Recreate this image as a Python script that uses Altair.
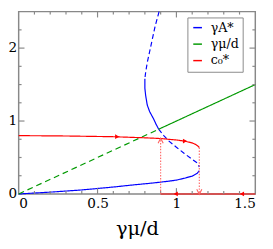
import altair as alt
import pandas as pd

# ---------------- data ----------------
blue_lower_x = [0, 0.2, 0.4, 0.6, 0.73, 0.85, 0.95, 1.0, 1.05, 1.1, 1.13, 1.145]
blue_lower_y = [0, 0.025, 0.055, 0.095, 0.125, 0.15, 0.175, 0.19, 0.215, 0.245, 0.28, 0.32]

blue_top_dash_x = [0.89, 0.865, 0.845, 0.83, 0.815, 0.805, 0.80]
blue_top_dash_y = [2.5, 2.3, 2.1, 1.95, 1.8, 1.67, 1.58]

blue_mid_solid_x = [0.80, 0.80, 0.805, 0.815, 0.83, 0.855, 0.87, 0.887]
blue_mid_solid_y = [1.58, 1.45, 1.35, 1.22, 1.13, 1.03, 0.96, 0.89]

blue_mid_dash_x = [0.887, 0.92, 0.95, 1.0, 1.05, 1.1, 1.135, 1.145]
blue_mid_dash_y = [0.89, 0.80, 0.73, 0.64, 0.555, 0.475, 0.42, 0.37]

green_dash_x = [0, 0.887]
green_dash_y = [0, 0.887]
green_solid_x = [0.887, 1.5]
green_solid_y = [0.887, 1.5]

red_top_x = [0, 0.3, 0.6, 0.8, 0.9, 1.0, 1.05, 1.1, 1.125, 1.14, 1.145]
red_top_y = [0.80, 0.795, 0.785, 0.77, 0.76, 0.74, 0.725, 0.70, 0.675, 0.65, 0.635]
red_bottom_x = [0.9, 1.5]
red_bottom_y = [0, 0]

dotted_down_x = [1.145, 1.145]
dotted_down_y = [0.635, 0]
dotted_up_x = [0.9, 0.9]
dotted_up_y = [0, 0.76]

arrow_x = [0.62, 1.05, 1.0, 1.42]
arrow_y = [0.785, 0.725, 0, 0]
arrow_angle = [90, 90, 270, 270]

dot_arrow_x = [1.145, 0.9]
dot_arrow_y = [0.03, 0.73]
dot_arrow_angle = [180, 0]

x_major_ticks = [0.5, 1.0]
x_minor_ticks = [0.1, 0.2, 0.3, 0.4, 0.6, 0.7, 0.8, 0.9, 1.1, 1.2, 1.3, 1.4]
y_major_ticks = [1, 2]
y_minor_ticks = [0.25, 0.5, 0.75, 1.25, 1.5, 1.75, 2.25]

series_names = ["γA*", "γμ/d", "c₀*"]
series_colors = ["#0000ff", "#009900", "#ff0000"]

# ---------------- build tables ----------------
rows = []
def add(series, seg, style, xs, ys):
    for i, (a, b) in enumerate(zip(xs, ys)):
        rows.append({"series": series, "seg": seg, "style": style, "i": i, "x": a, "y": b})

add("γA*", "b1", "solid", blue_lower_x, blue_lower_y)
add("γA*", "b2", "dashed", blue_top_dash_x, blue_top_dash_y)
add("γA*", "b3", "solid", blue_mid_solid_x, blue_mid_solid_y)
add("γA*", "b4", "dashed", blue_mid_dash_x, blue_mid_dash_y)
add("γμ/d", "g1", "gdashed", green_dash_x, green_dash_y)
add("γμ/d", "g2", "solid", green_solid_x, green_solid_y)
add("c₀*", "r1", "solid", red_top_x, red_top_y)
add("c₀*", "r2", "solid", red_bottom_x, red_bottom_y)
lines_df = pd.DataFrame(rows)

dot_rows = []
for seg, xs_, ys_ in [("d1", dotted_down_x, dotted_down_y), ("d2", dotted_up_x, dotted_up_y)]:
    for i, (a, b) in enumerate(zip(xs_, ys_)):
        dot_rows.append({"seg": seg, "i": i, "x": a, "y": b})
dots_df = pd.DataFrame(dot_rows)

arrows_df = pd.DataFrame({"x": arrow_x, "y": arrow_y, "angle": arrow_angle})
dot_arrows_df = pd.DataFrame({"x": dot_arrow_x, "y": dot_arrow_y, "angle": dot_arrow_angle})

W, H = 244, 188
FONT = "DejaVu Serif"
xs = alt.Scale(domain=[0, 1.5], nice=False, zero=False)
ys = alt.Scale(domain=[0, 2.5], nice=False, zero=False)

lines = alt.Chart(lines_df).mark_line(strokeWidth=1.2).encode(
    x=alt.X("x:Q", scale=xs, title="γμ/d",
            axis=alt.Axis(values=[0, 0.5, 1, 1.5], format="~g")),
    y=alt.Y("y:Q", scale=ys, title=None,
            axis=alt.Axis(values=[0, 1, 2], format="~g")),
    color=alt.Color("series:N", scale=alt.Scale(domain=series_names, range=series_colors),
                    sort=series_names, legend=alt.Legend(title=None)),
    strokeDash=alt.StrokeDash("style:N",
                              scale=alt.Scale(domain=["solid", "dashed", "gdashed"],
                                              range=[[1, 0], [5, 3], [6, 4]]),
                              legend=None),
    detail="seg:N",
    order="i:Q",
)

dotted = alt.Chart(dots_df).mark_line(strokeWidth=1.1, strokeDash=[1.5, 1.5], color="#ff6060").encode(
    x=alt.X("x:Q", scale=xs), y=alt.Y("y:Q", scale=ys), detail="seg:N", order="i:Q")

arrows = alt.Chart(arrows_df).mark_point(shape="triangle", filled=True, size=24, color="#ff0000",
                                         opacity=1).encode(
    x=alt.X("x:Q", scale=xs), y=alt.Y("y:Q", scale=ys),
    angle=alt.Angle("angle:Q", scale=None))

dot_arrows = alt.Chart(dot_arrows_df).mark_point(shape="M-1,1L0,-1L1,1", filled=False, size=28,
                                                 color="#ff6060", strokeWidth=1.1, opacity=1).encode(
    x=alt.X("x:Q", scale=xs), y=alt.Y("y:Q", scale=ys),
    angle=alt.Angle("angle:Q", scale=None))

TICK_COLOR = "#888888"
def xticks(vals, length):
    d = pd.DataFrame({"x": vals})
    bottom = alt.Chart(d).mark_rule(color=TICK_COLOR, strokeWidth=1.2).encode(
        x=alt.X("x:Q", scale=xs), y=alt.value(H), y2=alt.value(H - length))
    top = alt.Chart(d).mark_rule(color=TICK_COLOR, strokeWidth=1.2).encode(
        x=alt.X("x:Q", scale=xs), y=alt.value(0), y2=alt.value(length))
    return [bottom, top]

def yticks(vals, length):
    d = pd.DataFrame({"y": vals})
    left = alt.Chart(d).mark_rule(color=TICK_COLOR, strokeWidth=1.2).encode(
        y=alt.Y("y:Q", scale=ys), x=alt.value(0), x2=alt.value(length))
    right = alt.Chart(d).mark_rule(color=TICK_COLOR, strokeWidth=1.2).encode(
        y=alt.Y("y:Q", scale=ys), x=alt.value(W), x2=alt.value(W - length))
    return [left, right]

tick_layers = xticks(x_major_ticks, 6) + xticks(x_minor_ticks, 3) + yticks(y_major_ticks, 6) + yticks(y_minor_ticks, 3)

chart = alt.layer(lines, *tick_layers, dotted, arrows, dot_arrows).properties(
    width=W, height=H,
    autosize=alt.AutoSizeParams(type="none"),
    padding={"left": 11, "top": 0, "right": 10, "bottom": 53},
).configure(
    font=FONT,
).configure_view(
    stroke="#888888", strokeWidth=1.5
).configure_axis(
    ticks=False, domain=False, grid=False,
    labelFont=FONT, labelFontSize=14, labelColor="black",
    titleFont=FONT, titleFontSize=20, titleFontWeight="normal", titleColor="black",
).configure_axisX(
    labelPadding=3, titlePadding=9,
).configure_axisY(
    labelPadding=2,
).configure_legend(
    orient="none", legendX=174, legendY=6,
    strokeColor="#888888", fillColor="white", padding=4,
    symbolType="stroke", symbolSize=80, symbolStrokeWidth=1.5,
    labelFont=FONT, labelFontSize=13, labelColor="black", rowPadding=3,
    labelOffset=7,
)

chart.save("out.html", embed_options={"renderer": "svg", "actions": False})
